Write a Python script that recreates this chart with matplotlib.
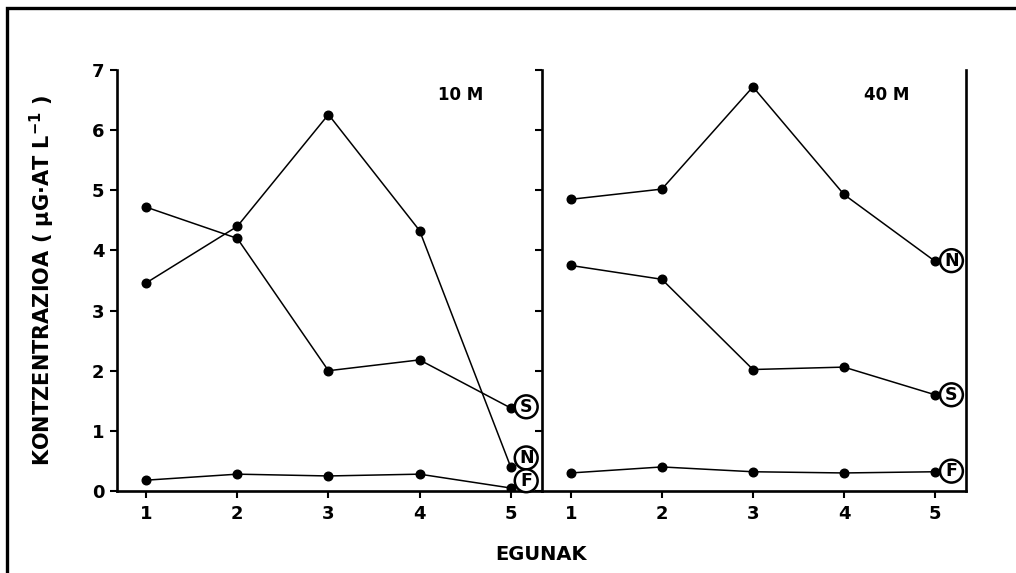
import matplotlib
matplotlib.use("Agg")
import matplotlib.pyplot as plt
from matplotlib.patches import Rectangle

plt.rcParams['font.family'] = ['DejaVu Sans']
plt.rcParams['font.weight'] = 'bold'
plt.rcParams['mathtext.fontset'] = 'custom'
plt.rcParams['mathtext.rm'] = 'DejaVu Sans:bold'
plt.rcParams['mathtext.default'] = 'rm'

days = [1, 2, 3, 4, 5]
yticks = [0, 1, 2, 3, 4, 5, 6, 7]

# 10 M panel
s_10 = [4.72, 4.20, 2.00, 2.18, 1.38]
n_10 = [3.46, 4.40, 6.26, 4.33, 0.40]
f_10 = [0.18, 0.28, 0.25, 0.28, 0.05]
# 40 M panel
n_40 = [4.85, 5.02, 6.72, 4.93, 3.82]
s_40 = [3.75, 3.52, 2.02, 2.06, 1.60]
f_40 = [0.30, 0.40, 0.32, 0.30, 0.32]

panel_titles = ["10 M", "40 M"]
series_labels = ["S", "N", "F"]
# label-circle y positions (near end of each series)
label_y_10 = [1.40, 0.55, 0.17]
label_y_40 = [1.60, 3.83, 0.33]

W, H = 1016, 573
fig = plt.figure(figsize=(W / 100, H / 100), dpi=100)

bottom = (H - 491) / H
height = (491 - 70) / H
ax1 = fig.add_axes([117 / W, bottom, 424.7 / W, height])
ax2 = fig.add_axes([541.7 / W, bottom, 424.3 / W, height])

lw_spine = 1.9
for ax in (ax1, ax2):
    ax.set_xlim(0.68, 5.34)
    ax.set_ylim(0, 7)
    ax.spines['top'].set_visible(False)
    for sp in ax.spines.values():
        sp.set_linewidth(lw_spine)
    ax.set_xticks(days)
    ax.set_xticklabels([str(d) for d in days], fontsize=13, fontweight='bold')
    ax.tick_params(axis='x', direction='out', length=5, width=1.5, pad=5)
    ax.tick_params(axis='y', direction='out', length=5, width=1.5, pad=4)

ax1.spines['right'].set_visible(False)
ax1.set_yticks(yticks)
ax1.set_yticklabels([str(v) for v in yticks], fontsize=13, fontweight='bold')

ax2.set_yticks(yticks)
ax2.tick_params(axis='y', labelleft=False)
ax2.spines['right'].set_visible(True)

mk = dict(color='black', marker='o', markersize=6.2, linewidth=1.1)
ax1.plot(days, s_10, **mk)
ax1.plot(days, n_10, **mk)
ax1.plot(days, f_10, **mk)
ax2.plot(days, n_40, **mk)
ax2.plot(days, s_40, **mk)
ax2.plot(days, f_40, **mk)

circ = dict(boxstyle='circle,pad=0.14', facecolor='white', edgecolor='black', linewidth=1.8)
for lab, yv in zip(series_labels, label_y_10):
    ax1.text(5.17, yv, lab, ha='center', va='center', fontsize=12.5, fontweight='bold',
             bbox=circ, zorder=5, clip_on=False)
for lab, yv in zip(series_labels, label_y_40):
    ax2.text(5.18, yv, lab, ha='center', va='center', fontsize=12.5, fontweight='bold',
             bbox=circ, zorder=5, clip_on=False)

ax1.text(4.45, 6.59, panel_titles[0], ha='center', va='center', fontsize=12, fontweight='bold')
ax2.text(4.47, 6.59, panel_titles[1], ha='center', va='center', fontsize=12, fontweight='bold')

fig.text(42 / W, 1 - 280 / H, 'KONTZENTRAZIOA ( µG·AT L$^{-1}$ )', rotation=90,
         ha='center', va='center', fontsize=15, fontweight='bold')
fig.text(541 / W, 1 - 555 / H, 'EGUNAK', ha='center', va='center', fontsize=14,
         fontweight='bold')

# outer frame of the scanned figure
frame = Rectangle((7 / W, -0.1), 1.2, 1.1 - 8 / H, transform=fig.transFigure,
                  fill=False, edgecolor='black', linewidth=2.4, clip_on=False)
fig.patches.append(frame)

fig.savefig('out.png', dpi=100)
